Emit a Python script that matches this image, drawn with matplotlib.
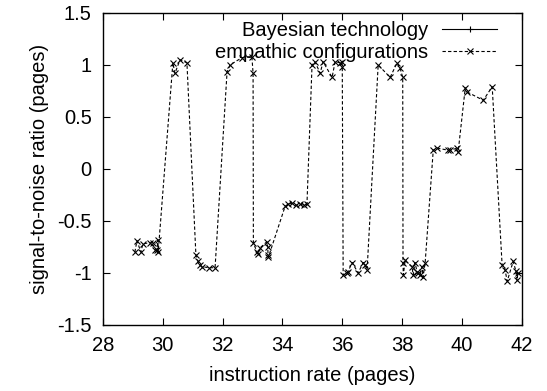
import numpy as np
import matplotlib
matplotlib.use("Agg")
import matplotlib.pyplot as plt
from matplotlib.ticker import FormatStrFormatter

plt.rcParams['font.family'] = ['Liberation Sans', 'DejaVu Sans']
plt.rcParams['axes.unicode_minus'] = False

# series
bayes_x = []
bayes_y = []

emp_x = [29.07, 29.14, 29.27, 29.34, 29.57, 29.67, 29.74, 29.81, 29.84, 29.85,
         30.34, 30.41, 30.58, 30.81,
         31.11, 31.18, 31.24, 31.31, 31.55, 31.75,
         32.15, 32.25, 32.65, 32.98, 33.02,
         33.03, 33.15, 33.18, 33.25, 33.48, 33.51, 33.52, 33.53,
         34.09, 34.2, 34.32, 34.45, 34.6, 34.72, 34.82,
         34.99, 35.09, 35.26, 35.36, 35.66, 35.76, 35.93, 35.99, 36.0,
         36.03, 36.16, 36.19, 36.33, 36.53, 36.7, 36.76, 36.83,
         37.2, 37.6, 37.83, 37.93, 38.02,
         38.03, 38.04, 38.1, 38.33, 38.37, 38.43, 38.5, 38.53, 38.6, 38.67, 38.7, 38.77,
         39.04, 39.17, 39.54, 39.61, 39.84, 39.87,
         40.11, 40.17, 40.71, 41.01,
         41.34, 41.44, 41.51, 41.71, 41.8, 41.84, 41.87]
emp_y = [-0.80, -0.69, -0.80, -0.72, -0.71, -0.71, -0.78, -0.78, -0.68, -0.80,
         1.02, 0.92, 1.05, 1.02,
         -0.83, -0.89, -0.92, -0.94, -0.95, -0.95,
         0.93, 1.00, 1.07, 1.08, 0.92,
         -0.71, -0.80, -0.82, -0.76, -0.70, -0.75, -0.83, -0.85,
         -0.36, -0.34, -0.33, -0.35, -0.34, -0.35, -0.34,
         1.00, 1.03, 0.92, 1.03, 0.88, 1.03, 1.02, 1.03, 0.98,
         -1.02, -1.00, -0.99, -0.90, -1.00, -0.90, -0.92, -0.97,
         1.00, 0.88, 1.02, 0.97, 0.88,
         -0.90, -1.02, -0.88, -0.94, -1.02, -0.90, -0.99, -1.00, -1.02, -0.94, -1.04, -0.90,
         0.18, 0.20, 0.18, 0.18, 0.20, 0.16,
         0.78, 0.74, 0.66, 0.79,
         -0.92, -0.97, -1.08, -0.89, -0.98, -1.07, -1.00]

xticks = np.arange(28, 43, 2)
yticks = np.arange(-1.5, 1.51, 0.5)

fs = 14.5

fig = plt.figure(figsize=(5.47, 3.91), dpi=100)
ax = fig.add_axes([0.188, 0.169, 0.766, 0.798])

ax.plot(bayes_x, bayes_y, color='black', lw=0.8, marker='+', ms=5, mew=0.8,
        label='Bayesian technology')
ax.plot(emp_x, emp_y, color='black', lw=0.8, dashes=(3, 2), marker='x', ms=4,
        mew=0.8, label='empathic configurations')

ax.set_xlim(28, 42)
ax.set_ylim(-1.5, 1.5)
ax.set_xticks(xticks)
ax.set_yticks(yticks)
ax.yaxis.set_major_formatter(FormatStrFormatter('%g'))
ax.tick_params(direction='in', length=5, width=0.8, top=True, right=True,
               labelsize=fs, pad=8)
for s in ax.spines.values():
    s.set_linewidth(1.0)

ax.set_xlabel('instruction rate (pages)', fontsize=fs, labelpad=8)
ax.set_ylabel('signal-to-noise ratio (pages)', fontsize=fs, labelpad=6)

leg = ax.legend(loc='upper right', bbox_to_anchor=(0.94, 0.975), frameon=False,
                markerfirst=False, fontsize=fs, handlelength=2.7,
                handletextpad=0.7, labelspacing=0.15, borderpad=0,
                borderaxespad=0, numpoints=1)

fig.savefig('out.png', dpi=100)
